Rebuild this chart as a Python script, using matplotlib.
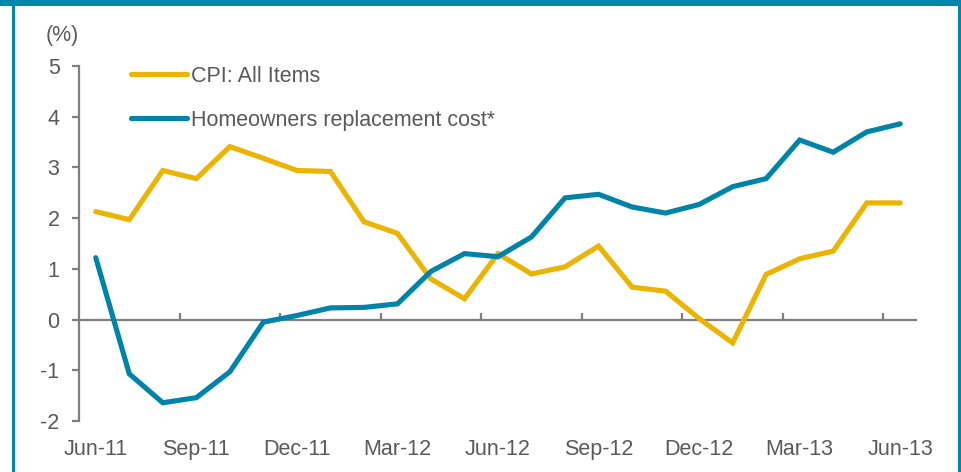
import matplotlib
matplotlib.use("Agg")
import matplotlib.pyplot as plt
from matplotlib.patches import Rectangle

months = ["Jun-11", "Jul-11", "Aug-11", "Sep-11", "Oct-11", "Nov-11", "Dec-11",
          "Jan-12", "Feb-12", "Mar-12", "Apr-12", "May-12", "Jun-12", "Jul-12",
          "Aug-12", "Sep-12", "Oct-12", "Nov-12", "Dec-12", "Jan-13", "Feb-13",
          "Mar-13", "Apr-13", "May-13", "Jun-13"]

cpi = [2.13, 1.97, 2.94, 2.78, 3.41, 3.18, 2.94, 2.92, 1.93, 1.70, 0.80, 0.41,
       1.30, 0.90, 1.04, 1.45, 0.64, 0.56, 0.02, -0.46, 0.89, 1.20, 1.35, 2.30, 2.30]

homeowners = [1.22, -1.07, -1.64, -1.54, -1.03, -0.05, 0.08, 0.23, 0.24, 0.31,
              0.95, 1.30, 1.24, 1.63, 2.40, 2.47, 2.22, 2.10, 2.27, 2.62, 2.78,
              3.54, 3.30, 3.70, 3.86]

series_names = ["CPI: All Items", "Homeowners replacement cost*"]

GOLD = "#EAB400"
BLUE = "#0083A9"
FRAME = "#0085AB"
TXT = "#595959"
AXC = "#7F7F7F"
FS = 15.5

plt.rcParams["font.family"] = ["Liberation Sans", "DejaVu Sans"]
plt.rcParams["axes.unicode_minus"] = False

W, H = 962, 472
fig = plt.figure(figsize=(W / 100, H / 100), dpi=100)
fig.patch.set_facecolor("white")

ax = fig.add_axes([79 / W, 51 / H, (917 - 79) / W, (421 - 66) / H])
x = list(range(len(months)))

ax.plot(x, cpi, color=GOLD, lw=3.7, label=series_names[0], solid_capstyle="round",
        solid_joinstyle="miter")
ax.plot(x, homeowners, color=BLUE, lw=3.7, label=series_names[1], solid_capstyle="round",
        solid_joinstyle="miter")

ax.set_xlim(-0.5, len(months) - 0.5)
ax.set_ylim(-2, 5)

# zero line with category tick marks
ax.axhline(0, color=AXC, lw=1.6, zorder=1)
bounds = [b - 0.5 for b in range(3, len(months), 3)]
ax.vlines(bounds, 0, 0.12, color=AXC, lw=1.6, zorder=1)

for s in ["top", "right", "bottom"]:
    ax.spines[s].set_visible(False)
ax.spines["left"].set_color(AXC)
ax.spines["left"].set_linewidth(1.6)

ax.set_yticks(range(-2, 6))
ax.tick_params(axis="y", direction="out", length=5, width=1.6, color=AXC,
               labelsize=FS, labelcolor=TXT, pad=9)
ax.set_xticks(x[::3], months[::3])
ax.tick_params(axis="x", length=0, labelsize=FS, labelcolor=TXT, pad=13)

ax.text(0, 1.085, "(%)", transform=ax.transAxes, ha="right", va="center",
        fontsize=FS, color=TXT)

leg = ax.legend(loc="upper left", bbox_to_anchor=(0.062, 1.0), frameon=False,
                fontsize=FS, handlelength=2.6, handletextpad=0.2,
                labelspacing=1.05, borderpad=0, borderaxespad=0)
for t in leg.get_texts():
    t.set_color(TXT)

# teal frame
fig.add_artist(Rectangle((0, 1 - 6 / H), 1, 6 / H, transform=fig.transFigure,
                         color=FRAME, lw=0))
fig.add_artist(Rectangle((12 / W, 0), 3 / W, 1, transform=fig.transFigure,
                         color=FRAME, lw=0))
fig.add_artist(Rectangle((958 / W, 0), 4 / W, 1, transform=fig.transFigure,
                         color=FRAME, lw=0))

fig.savefig("out.png", dpi=100)
